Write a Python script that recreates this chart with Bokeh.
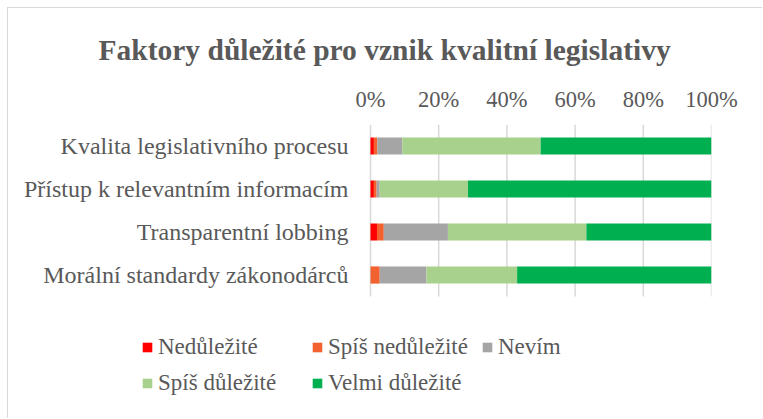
from bokeh.plotting import figure
from bokeh.models import (ColumnDataSource, FixedTicker, PrintfTickFormatter,
                          Legend, LegendItem, Title, Range1d)
from bokeh.core.properties import value
from bokeh.embed import file_html
from bokeh.resources import INLINE

categories = ["Kvalita legislativního procesu",
              "Přístup k relevantním informacím",
              "Transparentní lobbing",
              "Morální standardy zákonodárců"]
series = ["Nedůležité", "Spíš nedůležité", "Nevím", "Spíš důležité", "Velmi důležité"]
nedulezite = [1.0, 1.0, 1.9, 0.0]
spis_nedulezite = [1.0, 0.8, 2.0, 2.7]
nevim = [7.3, 0.9, 18.8, 13.7]
spis_dulezite = [40.6, 25.9, 40.6, 26.6]
velmi_dulezite = [50.1, 71.4, 36.7, 57.0]
ticks = [0, 20, 40, 60, 80, 100]
colors = ["#FF0000", "#F26130", "#A5A5A5", "#A9D18E", "#00B050"]

FONT = "Liberation Serif"
TXT = "#595959"

n = len(categories)
ypos = list(range(n))
source = ColumnDataSource(dict(y=ypos, cat=categories,
                               **{series[0]: nedulezite, series[1]: spis_nedulezite,
                                  series[2]: nevim, series[3]: spis_dulezite,
                                  series[4]: velmi_dulezite}))

# layout: plotting frame covers the lower-left area so the legend and
# category labels can live inside it; 0..100 % maps to page x 370..711
PX_PER_UNIT = 3.41
CAT_PX = 43.0
frame_h = 411 - 116
x_start = -362 / PX_PER_UNIT
y_top = -0.5
y_bottom = y_top + frame_h / CAT_PX

p = figure(width=755, height=411, x_range=Range1d(x_start, 100),
           y_range=Range1d(y_bottom, y_top),
           output_backend="svg", toolbar_location=None, x_axis_location="above",
           min_border_left=0, min_border_right=52, min_border_top=116,
           min_border_bottom=0)

# gridlines at the tick positions, spanning the category band
p.segment(x0=ticks, x1=ticks, y0=[y_top] * len(ticks), y1=[n - 0.5] * len(ticks),
          line_color="#D9D9D9", line_width=1.5)

renderers = p.hbar_stack(series, y="y", height=0.4, color=colors, line_color=None,
                         source=source)

# category labels
p.text(x=0, y="y", text="cat", source=source, x_offset=-22,
       text_align="right", text_baseline="middle", text_font=value(FONT),
       text_font_size="24px", text_color=TXT)

p.title = Title(text="Faktory důležité pro vznik kvalitní legislativy", align="left",
                offset=90, text_font=FONT, text_font_size="29.5px", text_color=TXT,
                text_font_style="bold", standoff=36)

xa = p.xaxis[0]
xa.ticker = FixedTicker(ticks=ticks)
xa.formatter = PrintfTickFormatter(format="%d%%")
xa.axis_line_color = None
xa.major_tick_line_color = None
xa.minor_tick_line_color = None
xa.major_label_text_font = FONT
xa.major_label_text_font_size = "22.5px"
xa.major_label_text_color = TXT
xa.major_label_standoff = 7

p.yaxis.visible = False
p.xgrid.grid_line_color = None
p.ygrid.grid_line_color = None
p.outline_line_color = None

rows = [[0, 1, 2], [3, 4]]
offsets = [59, 23]
for idx, off in zip(rows, offsets):
    items = [LegendItem(label=series[i], renderers=[renderers[i]]) for i in idx]
    lg = Legend(items=items, location=(133, off), orientation="horizontal",
                glyph_width=12, glyph_height=12, label_standoff=5,
                label_width=153, label_text_font=FONT, label_text_font_size="23px",
                label_text_color=TXT, padding=0, margin=0, spacing=0,
                border_line_color=None, background_fill_alpha=0,
                label_height=26)
    p.add_layout(lg)

p.styles = {"border-top": "1px solid #D9D9D9", "border-left": "1px solid #D9D9D9",
            "margin-left": "7px", "margin-top": "7px"}

open("out.html", "w").write(file_html(p, INLINE))
